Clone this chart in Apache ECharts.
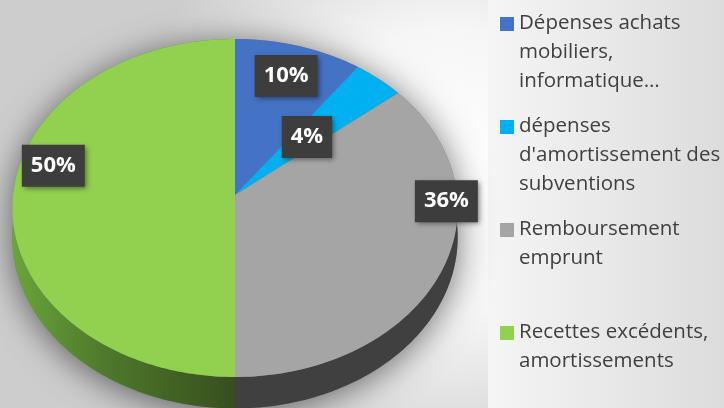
<!DOCTYPE html>
<html>
<head>
<meta charset="utf-8">
<script src="https://cdn.jsdelivr.net/npm/echarts@6/dist/echarts.min.js"></script>
<style>
  html, body { margin: 0; padding: 0; }
  #chart { width: 724px; height: 408px; }
</style>
</head>
<body>
<div id="chart"></div>
<script>
// data
const categories = [
  'Dépenses achats mobiliers, informatique…',
  "dépenses d'amortissement des subventions",
  'Remboursement emprunt',
  'Recettes excédents, amortissements',
]
const legendLines = [
  ['Dépenses achats', 'mobiliers,', 'informatique…'],
  ['dépenses', "d'amortissement des", 'subventions'],
  ['Remboursement', 'emprunt', ' '],
  ['Recettes excédents,', 'amortissements', ' '],
]
const values = [10, 4, 36, 50]
const percentLabels = ['10%', '4%', '36%', '50%']

// look
const topColors = ['#4472C4', '#00B0F0', '#A5A5A5', '#92D050']
const wallColors = ['#2a4a85', '#00769f', '#404040', null]
// label placement: shift of angle (deg) and fraction of radius
const labelShift = [0, 0, -23, 12]
const labelFrac = [0.8, 0.5, 0.95, 0.85]

// projected 3d pie geometry
const cx = 235, cy = 195, rx = 222, ry = 168, persp = 0.077, depth = 29

const total = values.reduce((a, b) => a + b, 0)
const starts = []
let acc = 0
values.forEach(v => { starts.push(acc / total * Math.PI * 2); acc += v })

function proj(t, dz) {
  const s = Math.sin(t), c = Math.cos(t)
  const den = 1 + persp * c
  return [cx + rx * s / den, cy - ry * c / den + (dz || 0) / den]
}

function arcPoints(a0, a1, dz) {
  const pts = []
  const n = Math.max(2, Math.ceil(Math.abs(a1 - a0) / 0.02))
  for (let i = 0; i <= n; i++) pts.push(proj(a0 + (a1 - a0) * i / n, dz))
  return pts
}

function renderSlice(idx) {
  return function (params, api) {
    const a0 = starts[idx]
    const a1 = a0 + values[idx] / total * Math.PI * 2
    const children = []

    if (idx === 0) {
      // silhouette with soft shadow under the whole pie
      const sil = arcPoints(-Math.PI / 2, Math.PI / 2, 0)
        .concat(arcPoints(Math.PI / 2, Math.PI * 1.5, depth))
      children.push({
        type: 'polygon',
        z2: -10,
        shape: { points: sil },
        style: {
          fill: '#777',
          shadowBlur: 34,
          shadowOffsetY: 4,
          shadowColor: 'rgba(0,0,0,0.55)',
        },
      })
    }

    // side wall (front half only)
    const b0 = Math.max(a0, Math.PI / 2)
    const b1 = Math.min(a1, Math.PI * 1.5)
    if (b1 > b0) {
      const wall = arcPoints(b0, b1, 0).concat(arcPoints(b1, b0, depth))
      let fill = wallColors[idx]
      if (!fill) {
        fill = new echarts.graphic.LinearGradient(1, 0, 0, 0, [
          { offset: 0, color: '#374f1d' },
          { offset: 0.6, color: '#4f7a2b' },
          { offset: 1, color: '#6aa53a' },
        ])
      }
      children.push({ type: 'polygon', z2: 0, shape: { points: wall }, style: { fill: fill } })
    }

    // top face
    const topPts = [[cx, cy]].concat(arcPoints(a0, a1, 0))
    children.push({
      type: 'polygon',
      z2: 10,
      shape: { points: topPts },
      style: { fill: topColors[idx] },
    })

    // data label
    const mid = (a0 + a1) / 2 + labelShift[idx] * Math.PI / 180
    const p = proj(mid, 0)
    const lx = cx + (p[0] - cx) * labelFrac[idx]
    const ly = cy + (p[1] - cy) * labelFrac[idx]
    children.push({
      type: 'text',
      z2: 20,
      x: lx,
      y: ly,
      style: {
        text: percentLabels[idx],
        fill: '#ffffff',
        font: 'bold 22px "Open Sans"',
        align: 'center',
        verticalAlign: 'middle',
        lineHeight: 22,
        backgroundColor: '#3d3d3d',
        padding: [10, 9],
        shadowBlur: 5,
        shadowOffsetX: 2,
        shadowOffsetY: 2,
        shadowColor: 'rgba(0,0,0,0.45)',
      },
    })

    return { type: 'group', children: children }
  }
}

const chart = echarts.init(document.getElementById('chart'))

chart.setOption({
  backgroundColor: {
    type: 'radial',
    x: 0.62,
    y: 0.42,
    r: 0.78,
    colorStops: [
      { offset: 0, color: '#ffffff' },
      { offset: 0.45, color: '#f6f6f6' },
      { offset: 1, color: '#cdcdcd' },
    ],
  },
  animation: false,
  graphic: [
    {
      type: 'rect',
      z: 0,
      shape: { x: 488, y: 0, width: 236, height: 408 },
      style: {
        fill: new echarts.graphic.LinearGradient(0, 0, 1, 0, [
          { offset: 0, color: '#f5f5f5' },
          { offset: 1, color: '#dcdcdc' },
        ]),
      },
    },
  ],
  legend: {
    orient: 'vertical',
    left: 500,
    top: 9,
    padding: 0,
    itemGap: 16,
    itemWidth: 14,
    itemHeight: 87,
    selectedMode: false,
    icon: 'path://M0,0h0.01M0,87h0.01M0,8h14v14h-14z',
    data: categories,
    formatter: name => legendLines[categories.indexOf(name)].join('\n'),
    textStyle: {
      fontFamily: 'Open Sans',
      fontSize: 20.5,
      lineHeight: 29,
      color: '#404040',
    },
  },
  series: categories.map((name, i) => ({
    type: 'custom',
    name: name,
    coordinateSystem: 'none',
    itemStyle: { color: topColors[i] },
    data: [values[i]],
    renderItem: renderSlice(i),
  })),
})
</script>
</body>
</html>
